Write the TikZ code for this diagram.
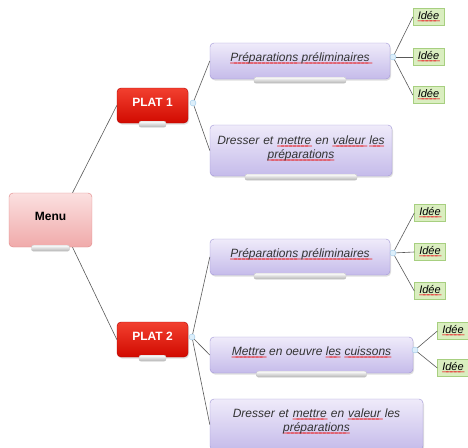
\documentclass[tikz,border=0pt]{standalone}
\usepackage{fontspec}
\setmainfont{Liberation Sans}
\usepackage{tikz}
\usetikzlibrary{shadows}

\definecolor{menutop}{HTML}{FBE0E0}
\definecolor{menubot}{HTML}{F0AAAA}
\definecolor{menuedge}{HTML}{E08484}
\definecolor{plattop}{HTML}{F2402F}
\definecolor{platbot}{HTML}{D10A00}
\definecolor{platedge}{HTML}{B30000}
\definecolor{topictop}{HTML}{EFEBFA}
\definecolor{topicbot}{HTML}{C5BBEA}
\definecolor{topicedge}{HTML}{A095D6}
\definecolor{ideafill}{HTML}{DAEEC0}
\definecolor{ideaedge}{HTML}{A7CF80}
\definecolor{knobfill}{HTML}{DCEEFA}
\definecolor{knobedge}{HTML}{9CC8E8}
\definecolor{spellred}{HTML}{E8262A}

% red spelling mark under a word
\newsavebox{\splbox}
\newcommand{\spl}[1]{\leavevmode\sbox{\splbox}{#1}%
  \rlap{\textcolor{spellred}{\upshape\hbox to \wd\splbox{\leaders\hbox to 4pt{\_\hss}\hfill}}}\usebox{\splbox}}

\begin{document}
\begin{tikzpicture}[x=1pt, y=-1pt,
    every node/.style={font=\fontsize{12}{14}\selectfont},
    link/.style={draw=black!65, line width=0.6pt},
    central/.style={rectangle, rounded corners=4pt, draw=menuedge, top color=menutop, bottom color=menubot,
        inner sep=0pt, minimum width=83pt, text height=27pt, text depth=27pt, font=\fontsize{12}{14}\selectfont\bfseries},
    main/.style={rectangle, rounded corners=4pt, draw=platedge, top color=plattop, bottom color=platbot, text=white,
        inner sep=0pt, minimum width=71pt, text height=18pt, text depth=17pt, font=\fontsize{12}{14}\selectfont\bfseries,
        drop shadow={opacity=.25, shadow xshift=1pt, shadow yshift=-1.5pt}},
    topic/.style={rectangle, rounded corners=4pt, draw=topicedge, top color=topictop, bottom color=topicbot, text=black!80,
        inner sep=0pt, text height=18pt, text depth=18pt, font=\fontsize{12}{14}\selectfont\itshape,
        drop shadow={opacity=.25, shadow xshift=1pt, shadow yshift=-1.5pt}},
    idea/.style={rectangle, draw=ideaedge, fill=ideafill, inner sep=0pt, minimum width=31pt,
        text height=11pt, text depth=6pt, font=\fontsize{11}{13}\selectfont\itshape},
    knob/.style={circle, draw=knobedge, fill=knobfill, inner sep=0pt, minimum size=6pt},
    tabbar/.style={rectangle, rounded corners=2pt, draw=gray!45, top color=white, bottom color=gray!60,
        inner sep=0pt, minimum height=6pt}]

    \useasboundingbox (0,0) rectangle (468,447);
    \clip (0,0) rectangle (468,447);

    % Nodes
    \node[central] (menu) at (50.5,220) {Menu};

    \node[main] (plat1) at (152.5,105.5) {PLAT 1};
    \node[main] (plat2) at (152.5,339.5) {PLAT 2};

    \node[topic, minimum width=180pt] (prep1) at (300,61) {\spl{Préparations} \spl{préliminaires}};
    \node[topic, text width=182pt, align=center, text height=19pt, text depth=32pt] (dress1) at (301,150.5)
        {Dresser et \spl{mettre} en \spl{valeur} \spl{les}\\ \spl{préparations}};

    \node[topic, minimum width=180pt] (prep2) at (300,257) {\spl{Préparations} \spl{préliminaires}};
    \node[topic, minimum width=203pt] (cook) at (311.5,355) {\spl{Mettre} en oeuvre \spl{les} \spl{cuissons}};
    \node[topic, text width=213pt, align=center, text height=18pt, text depth=33pt] (dress2) at (316.5,424.5)
        {Dresser et \spl{mettre} en \spl{valeur} les\\ \spl{préparations}};

    \node[idea] (idea11) at (428.5,17) {\spl{Idée}};
    \node[idea] (idea12) at (428.5,57) {\spl{Idée}};
    \node[idea] (idea13) at (428.5,95) {\spl{Idée}};

    \node[idea] (idea21) at (430,213) {\spl{Idée}};
    \node[idea] (idea22) at (430,252) {\spl{Idée}};
    \node[idea] (idea23) at (430,291) {\spl{Idée}};

    \node[idea] (idea31) at (453,331) {\spl{Idée}};
    \node[idea] (idea32) at (453,368) {\spl{Idée}};

    % Tabs
    \foreach \n/\w in {menu/38, plat1/27, plat2/27, prep1/92, dress1/112, prep2/92, cook/110, dress2/112}
        \node[tabbar, minimum width=\w pt] at ([yshift=-1pt]\n.south) {};

    % Branch points
    \node[knob] (k1) at (193,103) {};
    \node[knob] (k2) at (192,337) {};
    \node[knob] (k3) at (393,57) {};
    \node[knob] (k4) at (393,253) {};
    \node[knob] (k5) at (415,350) {};

    % Edges
    \draw[link] (menu.51) -- (plat1.west);
    \draw[link] (menu.-51) -- (plat2.west);

    \draw[link] (k1) -- (prep1.west);
    \draw[link] (k1) -- (dress1.west);

    \draw[link] (k2) -- (prep2.west);
    \draw[link] (k2) -- (cook.west);
    \draw[link] (k2) -- (dress2.west);

    \foreach \i in {idea11, idea12, idea13}
        \draw[link] (k3) -- (\i.west);
    \foreach \i in {idea21, idea22, idea23}
        \draw[link] (k4) -- (\i.west);
    \foreach \i in {idea31, idea32}
        \draw[link] (k5) -- (\i.west);
\end{tikzpicture}
\end{document}
